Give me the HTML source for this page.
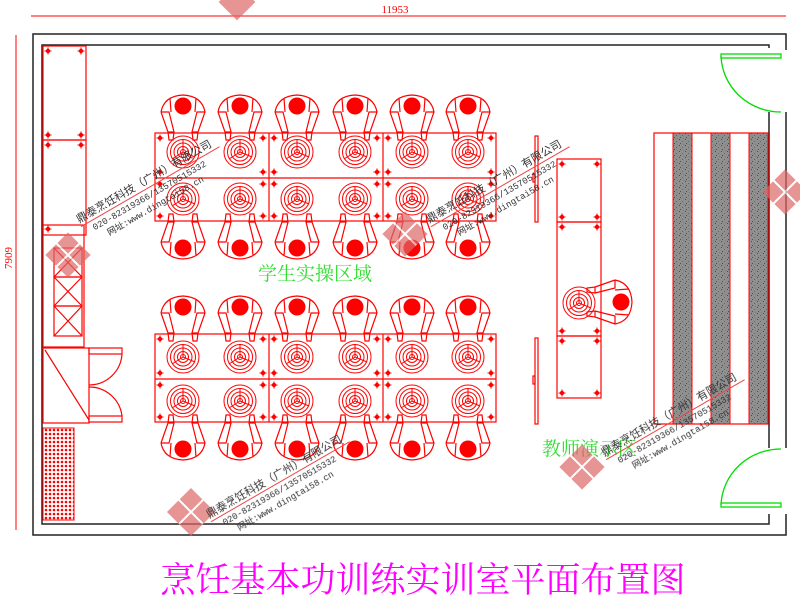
<!DOCTYPE html>
<html><head><meta charset="utf-8"><style>
html,body{margin:0;padding:0;background:#fff;}
svg{display:block}
</style></head><body>
<svg width="800" height="601" viewBox="0 0 800 601" xmlns="http://www.w3.org/2000/svg">
<defs>
<g id="dot"><circle r="2.2" fill="#f00"/><path d="M-3.5,0H3.5M0,-3.5V3.5" stroke="#f00" stroke-width="1"/></g>
<g id="burner" fill="none" stroke="#f00" stroke-width="1">
<circle r="16"/><circle r="12.5"/><circle r="9"/><circle r="5.5"/><circle r="2.5"/>
<path d="M0,0L0,-13M0,0L12,5M0,0L-11,7"/>
</g>
<g id="pdown" fill="none" stroke="#f00" stroke-width="1.2">
<circle r="8.5" fill="#f00" stroke="none"/>
<path d="M-22,6 Q-19,-10 0,-11 Q19,-10 22,6 L15,26 M-22,6 L-15,26 M-22,6 L-14,6 L-9,26 M22,6 L14,6 L9,26 M-15,26 L-9,26 L-10,34 L-14,34 Z M15,26 L9,26 L10,34 L14,34 Z M-13,-8 L-12,6 M13,-8 L12,6"/>
</g>
<g id="pup"><use href="#pdown" transform="scale(1,-1)"/></g>
<pattern id="hatch" width="4" height="4" patternUnits="userSpaceOnUse"><rect width="4" height="4" fill="#fff"/><circle cx="2" cy="2" r="1.3" fill="#f00"/></pattern>
<pattern id="gran" width="6" height="6" patternUnits="userSpaceOnUse"><rect width="6" height="6" fill="#8f8f8f"/><rect x="1" y="1" width="1" height="1" fill="#f00"/><rect x="4" y="3" width="1" height="1" fill="#f22"/><rect x="2" y="5" width="1" height="1" fill="#f00"/><rect x="5" y="0" width="1" height="1" fill="#f44"/></pattern>
</defs>

<!-- dimensions -->
<line x1="31" y1="16" x2="786" y2="16" stroke="#f00"/>
<text x="395" y="13" font-family="Liberation Serif,serif" font-size="11" fill="#f00" text-anchor="middle">11953</text>
<line x1="16" y1="35" x2="16" y2="530" stroke="#f00"/>
<text x="0" y="0" font-family="Liberation Serif,serif" font-size="11" fill="#f00" text-anchor="middle" transform="translate(12,258) rotate(-90)">7909</text>

<!-- walls -->
<g fill="none" stroke="#222" stroke-width="1.5">
<path d="M786,50 V34 H33 V535 H786 V514"/>
<path d="M769,48 V45 H42 V524 H769 V514"/>
<path d="M769,112 V448 M786,112 V448"/>
</g>
<!-- doors -->
<g fill="none" stroke="#0d0" stroke-width="1.3">
<rect x="721" y="54" width="60" height="4"/><path d="M721,56 A60,58 0 0 0 781,112"/>
<rect x="721" y="503" width="60" height="4"/><path d="M721,505 A60,58 0 0 1 781,449"/>
</g>

<!-- left cabinets -->
<g fill="none" stroke="#f00" stroke-width="1.2">
<rect x="43" y="46" width="43" height="94"/><rect x="43" y="140" width="43" height="95"/>
<rect x="43" y="225" width="41" height="122"/>
<rect x="54" y="248" width="28" height="29"/><rect x="54" y="277" width="28" height="29"/><rect x="54" y="306" width="28" height="30"/>
<path d="M54,248L82,277M82,248L54,277M54,277L82,306M82,277L54,306M54,306L82,336M82,306L54,336"/>
<rect x="43" y="348" width="46" height="75"/><path d="M45,350L89,420"/>
<rect x="89" y="348" width="33" height="6"/><rect x="89" y="416" width="33" height="6"/>
<path d="M89,385 A33,33 0 0 0 122,354 M89,387 A33,33 0 0 1 122,416"/>
</g>
<g><use href="#dot" x="48" y="51"/><use href="#dot" x="81" y="51"/><use href="#dot" x="48" y="135"/><use href="#dot" x="81" y="135"/><use href="#dot" x="48" y="145"/><use href="#dot" x="81" y="145"/><use href="#dot" x="48" y="229"/></g>
<rect x="43" y="428" width="31" height="92" fill="url(#hatch)" stroke="#f00"/>

<!-- student tables -->
<g fill="none" stroke="#f00" stroke-width="1.2">
<rect x="155" y="133" width="341" height="88"/><path d="M155,178H496M269,133V221M383,133V221"/>
<rect x="155" y="334" width="341" height="88"/><path d="M155,379H496M269,334V422M383,334V422"/>
</g>
<g>
<use href="#burner" x="183" y="152"/><use href="#burner" x="240" y="152"/><use href="#burner" x="297" y="152"/><use href="#burner" x="355" y="152"/><use href="#burner" x="412" y="152"/><use href="#burner" x="468" y="152"/>
<use href="#burner" x="183" y="199"/><use href="#burner" x="240" y="199"/><use href="#burner" x="297" y="199"/><use href="#burner" x="355" y="199"/><use href="#burner" x="412" y="199"/><use href="#burner" x="468" y="199"/>
<use href="#burner" x="183" y="357"/><use href="#burner" x="240" y="357"/><use href="#burner" x="297" y="357"/><use href="#burner" x="355" y="357"/><use href="#burner" x="412" y="357"/><use href="#burner" x="468" y="357"/>
<use href="#burner" x="183" y="401"/><use href="#burner" x="240" y="401"/><use href="#burner" x="297" y="401"/><use href="#burner" x="355" y="401"/><use href="#burner" x="412" y="401"/><use href="#burner" x="468" y="401"/>
<use href="#pdown" x="183" y="106"/><use href="#pdown" x="240" y="106"/><use href="#pdown" x="297" y="106"/><use href="#pdown" x="355" y="106"/><use href="#pdown" x="412" y="106"/><use href="#pdown" x="468" y="106"/>
<use href="#pup" x="183" y="248"/><use href="#pup" x="240" y="248"/><use href="#pup" x="297" y="248"/><use href="#pup" x="355" y="248"/><use href="#pup" x="412" y="248"/><use href="#pup" x="468" y="248"/>
<use href="#pdown" x="183" y="307"/><use href="#pdown" x="240" y="307"/><use href="#pdown" x="297" y="307"/><use href="#pdown" x="355" y="307"/><use href="#pdown" x="412" y="307"/><use href="#pdown" x="468" y="307"/>
<use href="#pup" x="183" y="449"/><use href="#pup" x="240" y="449"/><use href="#pup" x="297" y="449"/><use href="#pup" x="355" y="449"/><use href="#pup" x="412" y="449"/><use href="#pup" x="468" y="449"/>
</g>
<g>
<use href="#dot" x="160" y="138"/><use href="#dot" x="263" y="138"/><use href="#dot" x="274" y="138"/><use href="#dot" x="377" y="138"/><use href="#dot" x="388" y="138"/><use href="#dot" x="491" y="138"/>
<use href="#dot" x="160" y="172"/><use href="#dot" x="263" y="172"/><use href="#dot" x="274" y="172"/><use href="#dot" x="377" y="172"/><use href="#dot" x="388" y="172"/><use href="#dot" x="491" y="172"/>
<use href="#dot" x="160" y="184"/><use href="#dot" x="263" y="184"/><use href="#dot" x="274" y="184"/><use href="#dot" x="377" y="184"/><use href="#dot" x="388" y="184"/><use href="#dot" x="491" y="184"/>
<use href="#dot" x="160" y="216"/><use href="#dot" x="263" y="216"/><use href="#dot" x="274" y="216"/><use href="#dot" x="377" y="216"/><use href="#dot" x="388" y="216"/><use href="#dot" x="491" y="216"/>
<use href="#dot" x="160" y="339"/><use href="#dot" x="263" y="339"/><use href="#dot" x="274" y="339"/><use href="#dot" x="377" y="339"/><use href="#dot" x="388" y="339"/><use href="#dot" x="491" y="339"/>
<use href="#dot" x="160" y="373"/><use href="#dot" x="263" y="373"/><use href="#dot" x="274" y="373"/><use href="#dot" x="377" y="373"/><use href="#dot" x="388" y="373"/><use href="#dot" x="491" y="373"/>
<use href="#dot" x="160" y="385"/><use href="#dot" x="263" y="385"/><use href="#dot" x="274" y="385"/><use href="#dot" x="377" y="385"/><use href="#dot" x="388" y="385"/><use href="#dot" x="491" y="385"/>
<use href="#dot" x="160" y="417"/><use href="#dot" x="263" y="417"/><use href="#dot" x="274" y="417"/><use href="#dot" x="377" y="417"/><use href="#dot" x="388" y="417"/><use href="#dot" x="491" y="417"/>
</g>

<!-- teacher area -->
<g fill="none" stroke="#f00" stroke-width="1.2">
<rect x="557" y="159" width="44" height="63"/><rect x="557" y="222" width="44" height="114"/><rect x="557" y="336" width="44" height="62"/>
<rect x="535" y="136" width="3" height="86"/><rect x="533" y="174" width="2" height="8"/>
<rect x="535" y="338" width="3" height="86"/><rect x="533" y="376" width="2" height="8"/>
</g>
<use href="#burner" x="579" y="303"/>
<g transform="translate(621,302) rotate(90)"><use href="#pdown"/></g>
<g><use href="#dot" x="562" y="164"/><use href="#dot" x="597" y="164"/><use href="#dot" x="562" y="217"/><use href="#dot" x="597" y="217"/><use href="#dot" x="562" y="227"/><use href="#dot" x="597" y="227"/><use href="#dot" x="562" y="331"/><use href="#dot" x="597" y="331"/><use href="#dot" x="562" y="341"/><use href="#dot" x="597" y="341"/><use href="#dot" x="562" y="393"/><use href="#dot" x="597" y="393"/></g>

<!-- right shelf -->
<rect x="654" y="133" width="114" height="291" fill="#fff" stroke="#f00" stroke-width="1.2"/>
<rect x="673" y="133" width="19" height="291" fill="url(#gran)" stroke="#f00"/>
<rect x="711" y="133" width="19" height="291" fill="url(#gran)" stroke="#f00"/>
<rect x="749" y="133" width="19" height="291" fill="url(#gran)" stroke="#f00"/>

<!-- labels -->
<text x="258" y="280" font-family="Liberation Serif,'Noto Serif CJK SC',serif" font-size="19" fill="#3d3">学生实操区域</text>
<text x="542" y="455" font-family="Liberation Serif,'Noto Serif CJK SC',serif" font-size="19" fill="#3d3">教师演示区</text>
<text x="423" y="592" font-family="Liberation Serif,'Noto Serif CJK SC',serif" font-size="35" fill="#f0f" text-anchor="middle">烹饪基本功训练实训室平面布置图</text>

<!-- watermarks -->
<g opacity="0.7">
<g transform="translate(68,255) rotate(45)"><rect x="-16" y="-16" width="32" height="32" fill="#d66"/><path d="M-16,0H16M0,-16V16" stroke="#fff" stroke-width="2"/></g>
<g transform="translate(191,512) rotate(45)"><rect x="-17" y="-17" width="34" height="34" fill="#d66"/><path d="M-17,0H17M0,-17V17" stroke="#fff" stroke-width="2"/></g>
<g transform="translate(405,234) rotate(45)"><rect x="-16" y="-16" width="32" height="32" fill="#d66"/><path d="M-16,0H16M0,-16V16" stroke="#fff" stroke-width="2"/></g>
<g transform="translate(582,467) rotate(45)"><rect x="-16" y="-16" width="32" height="32" fill="#d66"/><path d="M-16,0H16M0,-16V16" stroke="#fff" stroke-width="2"/></g>
<g transform="translate(785,192) rotate(45)"><rect x="-16" y="-16" width="32" height="32" fill="#d66"/><path d="M-16,0H16M0,-16V16" stroke="#fff" stroke-width="2"/></g>
<g transform="translate(237,2) rotate(45)"><rect x="-13" y="-13" width="26" height="26" fill="#d66"/></g>
</g>
<g font-family="Liberation Mono,'Noto Sans CJK SC',monospace" fill="#333" font-size="9">
<g transform="translate(80,225) rotate(-30)"><line x1="0" y1="2" x2="160" y2="2" stroke="#e44"/><text x="0" y="-2" font-size="11">鼎泰烹饪科技（广州）有限公司</text><text x="10" y="12">020-82319366/13570515332</text><text x="20" y="24">网址:www.dingtai58.cn</text></g>
<g transform="translate(210,520) rotate(-30)"><line x1="0" y1="2" x2="160" y2="2" stroke="#e44"/><text x="0" y="-2" font-size="11">鼎泰烹饪科技（广州）有限公司</text><text x="10" y="12">020-82319366/13570515332</text><text x="20" y="24">网址:www.dingtai58.cn</text></g>
<g transform="translate(430,225) rotate(-30)"><line x1="0" y1="2" x2="160" y2="2" stroke="#e44"/><text x="0" y="-2" font-size="11">鼎泰烹饪科技（广州）有限公司</text><text x="10" y="12">020-82319366/13570515332</text><text x="20" y="24">网址:www.dingtai58.cn</text></g>
<g transform="translate(605,458) rotate(-30)"><line x1="0" y1="2" x2="160" y2="2" stroke="#e44"/><text x="0" y="-2" font-size="11">鼎泰烹饪科技（广州）有限公司</text><text x="10" y="12">020-82319366/13570515332</text><text x="20" y="24">网址:www.dingtai58.cn</text></g>
</g>
</svg>
</body></html>
